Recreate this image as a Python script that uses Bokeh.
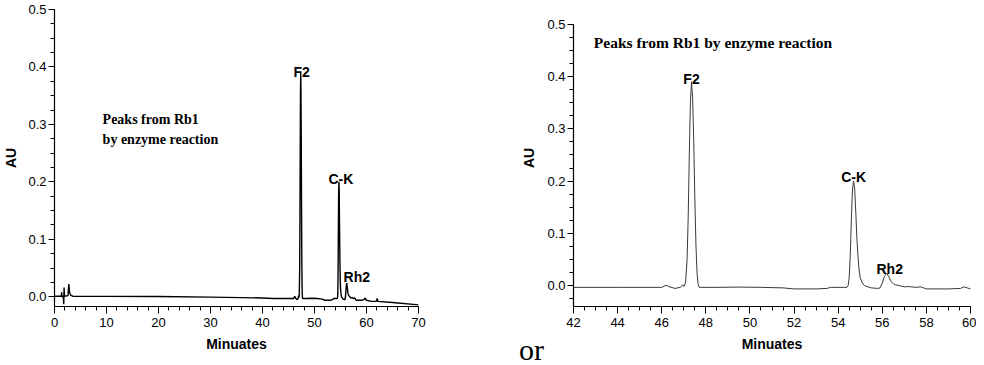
from bokeh.plotting import figure
from bokeh.models import Range1d, SingleIntervalTicker, PrintfTickFormatter, Label, Div
from bokeh.layouts import row
from bokeh.embed import file_html
from bokeh.resources import INLINE

# Chromatogram: retention time (min) and absorbance (AU)
time_min = [0.0, 1.0, 1.3, 1.38, 1.45, 1.7, 1.78, 1.84, 1.92, 2.6, 2.75, 2.9, 3.1, 3.5,
            10.0, 20.0, 30.0, 40.0, 42.0, 44.0, 46.0, 46.2, 46.35, 46.6, 46.85, 46.95,
            47.02, 47.08, 47.15, 47.2, 47.25, 47.3, 47.35, 47.4, 47.45, 47.5, 47.55,
            47.6, 47.65, 47.7, 48.5, 49.5, 50.5, 51.5, 52.0, 53.0, 53.5, 53.65, 54.3,
            54.4, 54.45, 54.5, 54.55, 54.6, 54.65, 54.7, 54.75, 54.8, 54.85, 54.9, 54.95,
            55.0, 55.1, 55.2, 55.35, 55.5, 55.8, 55.9, 56.0, 56.1, 56.2, 56.3, 56.4, 56.5,
            56.6, 56.8, 57.0, 57.2, 57.5, 57.75, 58.0, 59.0, 59.55, 59.7, 59.85, 60.0,
            61.0, 61.9, 62.05, 62.2, 65.0, 70.0]
absorb_au = [0.001, 0.001, 0.001, 0.008, 0.0, 0.001, -0.013, 0.016, 0.001, 0.002, 0.022,
             0.008, 0.003, 0.001, 0.0008, 0.0005, -0.0005, -0.002, -0.003, -0.003, -0.003,
             0.001, -0.002, -0.005, -0.003, 0.002, -0.001, 0.006, 0.05, 0.13, 0.25, 0.35,
             0.39, 0.36, 0.28, 0.17, 0.08, 0.025, 0.003, -0.003, -0.003, -0.0025, -0.003,
             -0.004, -0.006, -0.006, -0.005, -0.003, -0.003, -0.003, 0.0, 0.015, 0.06,
             0.13, 0.185, 0.2, 0.185, 0.14, 0.09, 0.055, 0.03, 0.015, 0.005, 0.0, -0.002,
             -0.004, -0.005, -0.004, 0.005, 0.018, 0.024, 0.017, 0.008, 0.004, 0.002, 0.0,
             -0.002, -0.0015, -0.003, -0.002, -0.006, -0.006, -0.005, -0.002, -0.004,
             -0.006, -0.008, -0.008, -0.003, -0.008, -0.010, -0.014]

peak_names = ["F2", "C-K", "Rh2"]
peak_times = [47.35, 54.7, 56.2]
peak_heights = [0.39, 0.2, 0.024]

note_line1 = "Peaks from Rb1"
note_line2 = "by enzyme reaction"
note_text = "Peaks from Rb1 by enzyme reaction"
x_title = "Minuates"
y_title = "AU"
joiner = "or"

SANS = "Liberation Sans"
SERIF = "Liberation Serif"


def style(p, x_interval, x_minor, y_bounds):
    p.outline_line_color = None
    p.xgrid.visible = False
    p.ygrid.visible = False
    p.background_fill_color = "white"
    p.border_fill_color = "white"
    p.xaxis.ticker = SingleIntervalTicker(interval=x_interval, num_minor_ticks=x_minor)
    p.yaxis.ticker = SingleIntervalTicker(interval=0.1, num_minor_ticks=4)
    p.yaxis.formatter = PrintfTickFormatter(format="%.1f")
    p.yaxis.bounds = y_bounds
    for ax in (p.xaxis[0], p.yaxis[0]):
        ax.axis_line_color = "black"
        ax.axis_line_width = 1.2
        ax.major_tick_line_color = "black"
        ax.minor_tick_line_color = "black"
        ax.major_tick_line_width = 1
        ax.minor_tick_line_width = 1
        ax.major_tick_in = 0
        ax.minor_tick_in = 0
        ax.major_label_text_font = SANS
        ax.major_label_text_font_size = "13px"
        ax.major_label_text_color = "black"
        ax.axis_label_text_font = SANS
        ax.axis_label_text_font_size = "14px"
        ax.axis_label_text_font_style = "bold"
        ax.axis_label_text_color = "black"
    p.xaxis.major_tick_out = 7
    p.xaxis.minor_tick_out = 4
    p.xaxis.major_label_standoff = 4
    p.xaxis.axis_label_standoff = 6
    p.yaxis.major_tick_out = 6
    p.yaxis.minor_tick_out = 4
    p.yaxis.major_label_standoff = 2
    p.xaxis.axis_label = x_title
    p.yaxis.axis_label = y_title


# ---- left: full run ----
p1 = figure(width=482, height=357, output_backend="svg", toolbar_location=None,
            x_range=Range1d(0, 70), y_range=Range1d(-0.0169, 0.5),
            min_border_left=47, min_border_right=64, min_border_top=9, min_border_bottom=51,
            styles={"flex-shrink": "0"})
style(p1, 10, 5, (-0.0169, 0.5))
p1.yaxis.axis_label_standoff = 6
p1.line(time_min, absorb_au, line_color="black", line_width=1.4)

left_offsets = [(1, 1), (2, 3), (10, 6)]
for name, t, h, (dx, dy) in zip(peak_names, peak_times, peak_heights, left_offsets):
    p1.add_layout(Label(x=t, y=h, text=name, x_offset=dx, y_offset=dy,
                        text_align="center", text_baseline="alphabetic",
                        text_font=SANS, text_font_style="bold", text_font_size="14px",
                        text_color="black"))
p1.add_layout(Label(x=9.25, y=0.309, text=note_line1, text_font=SERIF,
                    text_font_style="bold", text_font_size="14px", text_color="black",
                    text_baseline="alphabetic"))
p1.add_layout(Label(x=9.25, y=0.274, text=note_line2, text_font=SERIF,
                    text_font_style="bold", text_font_size="14px", text_color="black",
                    text_baseline="alphabetic"))

# ---- right: zoom 42-60 min ----
p2 = figure(width=494, height=357, output_backend="svg", toolbar_location=None,
            x_range=Range1d(42, 60), y_range=Range1d(-0.0396, 0.5281),
            min_border_left=91, min_border_right=6, min_border_top=9, min_border_bottom=51,
            styles={"flex-shrink": "0"})
style(p2, 2, 4, (-0.0396, 0.5))
p2.yaxis.axis_label_standoff = 7
p2.line(time_min, absorb_au, line_color="#3a3a3a", line_width=1.0)

right_offsets = [(0, 3), (0, 4), (3, 4)]
for name, t, h, (dx, dy) in zip(peak_names, peak_times, peak_heights, right_offsets):
    p2.add_layout(Label(x=t, y=h, text=name, x_offset=dx, y_offset=dy,
                        text_align="center", text_baseline="alphabetic",
                        text_font=SANS, text_font_style="bold", text_font_size="14px",
                        text_color="black"))
p2.add_layout(Label(x=42.92, y=0.465, text=note_text, text_font=SERIF,
                    text_font_style="bold", text_font_size="15.5px", text_color="black",
                    text_baseline="alphabetic"))

# the word between the two charts
or_div = Div(text=joiner, width=30, height=20,
             styles={"position": "absolute", "left": "514px", "top": "335px",
                     "font-family": "'Liberation Serif', serif", "font-size": "30px",
                     "color": "black", "line-height": "20px", "overflow": "visible"})

layout = row(p1, p2, or_div,
             styles={"position": "absolute", "left": "0px", "top": "0px"})
html = file_html(layout, INLINE)
html = html.replace("<head>", "<head><style>html, body { overflow: hidden; }</style>", 1)
open("out.html", "w").write(html)
